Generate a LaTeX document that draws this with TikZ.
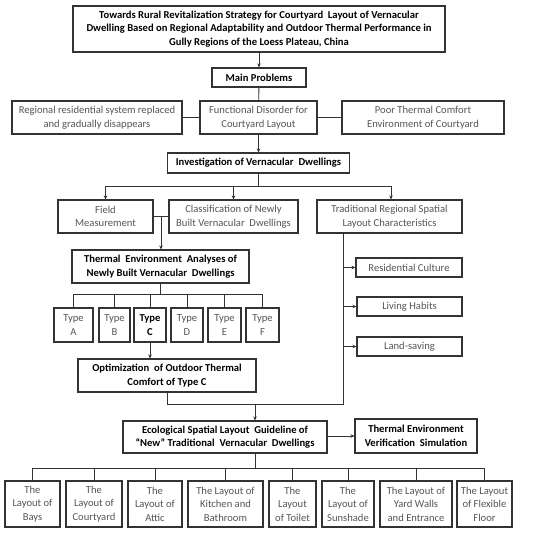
\documentclass[tikz,border=0pt]{standalone}
\usepackage{fontspec}
\setmainfont{Carlito}
\usepackage{tikz}
\usetikzlibrary{calc}
\usetikzlibrary{arrows.meta}
\definecolor[named]{boxline}{HTML}{333333}
\definecolor[named]{txtgray}{HTML}{555555}
\tikzset{fdp/.style={
  x=1pt,
  y=-1pt
}}
\tikzset{fbx/.style={
  draw=boxline,
  line width=1.1pt,
  shape=rectangle,
  align=center,
  inner sep=1pt,
  text=txtgray,
  font=\fontsize{10.6}{13.5}\selectfont
}}
\tikzset{fbb/.style={
  fbx,
  text=black,
  font=\fontsize{10.6}{13.5}\selectfont\bfseries
}}
\tikzset{sz/.style 2 args={
  minimum width=#1pt,
  minimum height=#2pt
}}
\tikzset{fln/.style={
  boxline,
  line width=0.9pt
}}
\tikzset{far/.style={
  fln,
  -{Stealth[length=4pt,width=3.6pt]}
}}

\begin{document}
\begin{tikzpicture}[fdp]

    \useasboundingbox (0,0) rectangle (550,535);

    %% Top part

    % Title and problems
    \node[fbb,sz={372}{46}] (title) at (259,29)
      {Towards Rural Revitalization Strategy for Courtyard\ \ Layout of Vernacular\\
       Dwelling Based on Regional Adaptability and Outdoor Thermal Performance in\\
       Gully Regions of the Loess Plateau, China};
    \node[fbb,sz={94}{19}] (main) at (259,77.5) {Main Problems};
    \node[fbx,sz={170}{33}] (regional) at (97,117.5)
      {Regional residential system replaced\\ and gradually disappears};
    \node[fbx,sz={117}{33}] (functional) at (258.5,117.5)
      {Functional Disorder\ for\\ Courtyard Layout};
    \node[fbx,sz={162}{33}] (poor) at (423,117.5)
      {Poor Thermal Comfort\\ Environment of Courtyard};
    \node[fbb,sz={182}{20}] (invest) at (258.5,163)
      {Investigation of Vernacular\ \ Dwellings};

    \draw[far] (title) -- (main);
    \draw[fln] (main) -- (functional);
    \draw[fln] (regional) -- (functional);
    \draw[fln] (functional) -- (poor);
    \draw[far] (functional) -- (invest);

    %% Investigation

    \node[fbx,sz={95}{33}] (field) at (105.5,216.5) {Field\\ Measurement};
    \node[fbx,sz={129}{33}] (classif) at (233.5,216.5)
      {Classification of Newly\\ Built Vernacular\ \ Dwellings};
    \node[fbx,sz={145}{33}] (trad) at (389.5,216.5)
      {Traditional Regional Spatial\\ Layout Characteristics};

    \draw[fln] (invest) -- ++(0,23) coordinate (ij);
    \draw[far] (ij) -| (field);
    \draw[far] (ij) -| (classif);
    \draw[far] (ij) -| ([xshift=1.5pt]trad.north);

    % Thermal analyses
    \node[fbb,sz={177}{33}] (thermal) at (160.5,266.5)
      {Thermal\ \ Environment\ \ Analyses of\\ Newly Built Vernacular\ \ Dwellings};
    \draw[fln] (field) -- (classif);
    \coordinate (fc) at ($(field.east)!0.5!(classif.west)$);
    \draw[far] (fc) -- (fc |- thermal.north);

    % Types
    \node[fbx,sz={39}{34}] (typeA) at (73.5,325) {Type\\ A};
    \node[fbx,sz={31}{34}] (typeB) at (114.5,325) {Type\\ B};
    \node[fbb,sz={32}{34}] (typeC) at (150,325) {Type\\ C};
    \node[fbx,sz={32}{34}] (typeD) at (187,325) {Type\\ D};
    \node[fbx,sz={33}{34}] (typeE) at (224.5,325) {Type\\ E};
    \node[fbx,sz={33}{34}] (typeF) at (262.5,325) {Type\\ F};
    \draw[fln] (thermal) -- ++(0,27.5) coordinate (tj);
    \foreach \t in {A,B,C,D,E,F}
      \draw[fln] (tj) -| (type\t);

    \node[fbb,sz={178}{33}] (optim) at (167,375.5)
      {Optimization\ \ of Outdoor Thermal\\ Comfort of Type C};
    \draw[far] (typeC) -- (typeC |- optim.north);

    % Characteristics
    \node[fbx,sz={106}{19}] (resid) at (409,267.5) {Residential\ Culture};
    \node[fbx,sz={105}{19}] (living) at (409.5,306.5) {Living Habits};
    \node[fbx,sz={105}{19}] (land) at (409.5,346.5) {Land-saving};
    \coordinate (tl) at ([xshift=-46.5pt]trad.south);
    \foreach \c in {resid,living,land}
      \draw[far] (tl |- \c) -- (\c);

    %% Guideline

    \node[fbb,sz={204}{32}] (eco) at (225,437)
      {Ecological Spatial Layout\ \ Guideline of\\
       ``New'' Traditional\ \ Vernacular\ \ Dwellings};
    \node[fbb,sz={122}{34}] (verif) at (416,436)
      {Thermal Environment\\ Verification\ \ Simulation};
    \draw[fln] (optim) -- ++(0,28.5) coordinate (oj) -| (tl);
    \coordinate (gj) at ($(oj)!0.5!(oj -| tl)$);
    \draw[far] (gj) -- (gj |- eco.north);
    \draw[far] (eco.east |- verif) -- (verif);

    % Layouts
    \node[fbx,sz={55}{46}] (bays) at (32.5,504) {The\\ Layout of\\ Bays};
    \node[fbx,sz={56}{46}] (court) at (94,504) {The\\ Layout of\\ Courtyard};
    \node[fbx,sz={54}{46}] (attic) at (155,504) {The\\ Layout of\\ Attic};
    \node[fbx,sz={75}{46}] (kitchen) at (225.5,504)
      {The Layout of\\ Kitchen and\\ Bathroom};
    \node[fbx,sz={47}{46}] (toilet) at (292.5,504) {The\\ Layout\\ of Toilet};
    \node[fbx,sz={52}{46}] (sun) at (348,504) {The\\ Layout of\\ Sunshade};
    \node[fbx,sz={72}{46}] (yard) at (416,504)
      {The Layout of\\ Yard Walls\\ and Entrance};
    \node[fbx,sz={55}{46}] (floor) at (484.5,504)
      {The Layout\\ of Flexible\\ Floor};
    \draw[fln] (gj |- eco.south) -- ++(0,15) coordinate (ej);
    \foreach \l in {bays,court,attic,kitchen,toilet,sun,yard,floor}
      \draw[fln] (ej) -| (\l);

  \end{tikzpicture}
\end{document}
